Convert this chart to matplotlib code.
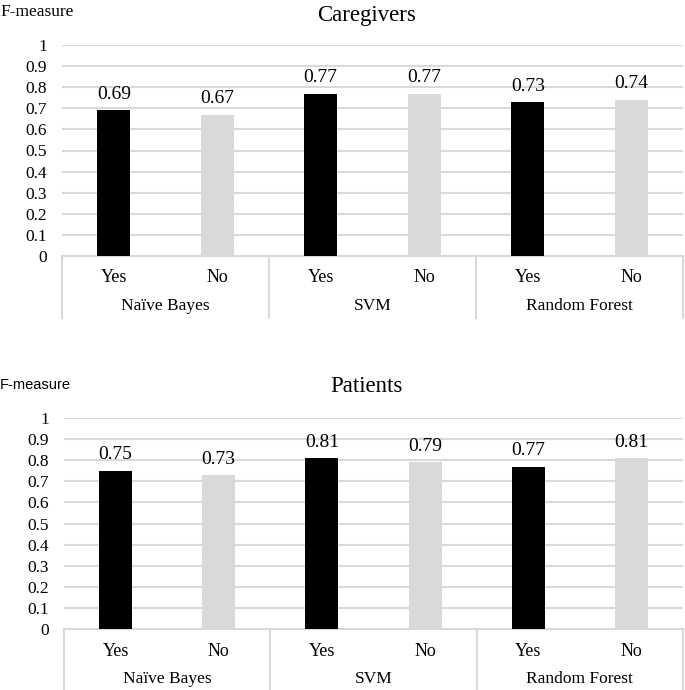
import matplotlib
matplotlib.use("Agg")
import matplotlib.pyplot as plt
import numpy as np

plt.rcParams['font.family'] = ['Liberation Serif', 'DejaVu Serif']

# data
models = ['Naïve Bayes', 'SVM', 'Random Forest']
options = ['Yes', 'No']
caregivers = [0.69, 0.67, 0.77, 0.77, 0.73, 0.74]
patients = [0.75, 0.73, 0.81, 0.79, 0.77, 0.81]
yticks = [0, 0.1, 0.2, 0.3, 0.4, 0.5, 0.6, 0.7, 0.8, 0.9, 1]
ytick_labels = ['0', '0.1', '0.2', '0.3', '0.4', '0.5', '0.6', '0.7', '0.8', '0.9', '1']

bar_colors = ['#000000', '#d9d9d9']
grid_c = '#d9d9d9'

W, H = 685, 690
fig = plt.figure(figsize=(6.85, 6.9), dpi=100)


def panel(rect, vals, title, ylab_font, ylab_size, ylab_y, title_y):
    ax = fig.add_axes(rect)
    x = np.arange(len(vals))
    cols = [bar_colors[i % 2] for i in range(len(vals))]
    ax.bar(x, vals, width=0.32, color=cols, zorder=3)
    for xi, v in zip(x, vals):
        ax.text(xi, v + 0.035, '%.2f' % v, ha='center', va='bottom', fontsize=14)
    ax.set_ylim(0, 1)
    ax.set_xlim(-0.5, len(vals) - 0.5)
    ax.set_yticks(yticks)
    ax.set_yticklabels(ytick_labels, fontsize=12.5)
    ax.tick_params(axis='y', length=0, pad=11)
    ax.set_xticks([])
    for t in yticks[1:]:
        ax.axhline(t, color=grid_c, lw=1.5, zorder=1)
    for s in ['top', 'right', 'left']:
        ax.spines[s].set_visible(False)
    ax.spines['bottom'].set_color(grid_c)
    ax.spines['bottom'].set_linewidth(1.5)

    # two-level category axis
    trans = ax.get_xaxis_transform()
    axh_px = rect[3] * H
    drop = 62.0 / axh_px
    for b in [-0.5, 1.5, 3.5, 5.5]:
        ax.plot([b, b], [0, -drop], color=grid_c, lw=1.5, transform=trans, clip_on=False)
    for i in range(len(vals)):
        ax.text(i, -22.0 / axh_px, options[i % 2], transform=trans, ha='center',
                va='center', fontsize=13)
    for g, name in enumerate(models):
        ax.text(2 * g + 0.5, -50.0 / axh_px, name, transform=trans, ha='center',
                va='center', fontsize=12.5)

    fig.text(0.0, ylab_y, 'F-measure', ha='left', va='center', fontsize=ylab_size,
             fontfamily=ylab_font)
    fig.text(0.5 + 0.035, title_y, title, ha='center', va='center', fontsize=16.5)
    return ax


panel([62 / W, (H - 256) / H, (683 - 62) / W, 211 / H], caregivers, 'Caregivers',
      'Liberation Serif', 12.5, 1 - 12 / H, 1 - 15 / H)
panel([64 / W, (H - 629) / H, (683 - 64) / W, 211 / H], patients, 'Patients',
      'Liberation Sans', 10.5, 1 - 385 / H, 1 - 387 / H)

fig.savefig('out.png', dpi=100)
